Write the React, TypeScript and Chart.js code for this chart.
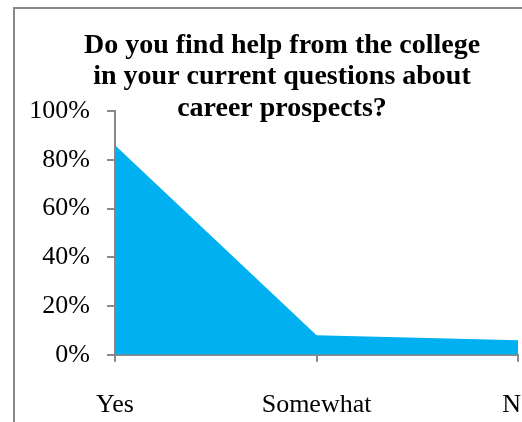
import React, { useEffect, useRef } from "react";
import { Chart, registerables } from "chart.js";

Chart.register(...registerables);

const categories = ["Yes", "Somewhat", "No"];
const shareValues = [86, 8, 6];
const yTicks = [0, 20, 40, 60, 80, 100];
const titleLines = [
  "Do you find help from the college",
  "in your current questions about",
  "career prospects?",
];

const SERIF = "'Liberation Serif', 'Times New Roman', serif";

export default function App() {
  const ref = useRef<HTMLCanvasElement | null>(null);

  useEffect(() => {
    if (!ref.current) return;
    const chart = new Chart(ref.current, {
      type: "line",
      data: {
        labels: categories,
        datasets: [
          {
            data: shareValues,
            fill: "origin",
            backgroundColor: "#00B0F0",
            borderWidth: 0,
            borderColor: "#00B0F0",
            pointRadius: 0,
            tension: 0,
          },
        ],
      },
      options: {
        animation: false,
        responsive: false,
        devicePixelRatio: 1,
        layout: { padding: { left: 0, right: 13, top: 0, bottom: 10 } },
        plugins: {
          legend: { display: false },
          tooltip: { enabled: false },
          title: {
            display: true,
            text: titleLines,
            color: "#000",
            font: { family: SERIF, size: 28, weight: "bold", lineHeight: 1.125 },
            padding: { top: 21, bottom: -13.5 },
          },
        },
        scales: {
          x: {
            type: "category",
            offset: false,
            grid: { drawOnChartArea: false, drawTicks: true, tickLength: 7, color: "#898989", lineWidth: 2 },
            border: { display: true, color: "#898989", width: 2 },
            ticks: {
              color: "#000",
              padding: 28,
              autoSkip: false,
              maxRotation: 0,
              font: { family: SERIF, size: 26 },
            },
          },
          y: {
            min: 0,
            max: 100,
            afterBuildTicks: (scale: any) => {
              scale.ticks = yTicks.map((v) => ({ value: v }));
            },
            afterFit: (scale: any) => {
              scale.width = 100;
            },
            grid: { drawOnChartArea: false, drawTicks: true, tickLength: 8, color: "#898989", lineWidth: 2 },
            border: { display: true, color: "#898989", width: 2 },
            ticks: {
              color: "#000",
              padding: 17,
              callback: (v: any) => v + "%",
              font: { family: SERIF, size: 26 },
            },
          },
        },
      },
    });
    return () => chart.destroy();
  }, []);

  return (
    <div style={{ position: "fixed", left: 0, top: 0, width: 522, height: 422, overflow: "hidden", background: "#fff" }}>
      <div
        style={{
          position: "absolute",
          left: 13,
          top: 7,
          width: 547,
          height: 450,
          border: "2px solid #898989",
          background: "#fff",
        }}
      >
        <canvas ref={ref} width={547} height={450} style={{ display: "block" }} />
      </div>
    </div>
  );
}
